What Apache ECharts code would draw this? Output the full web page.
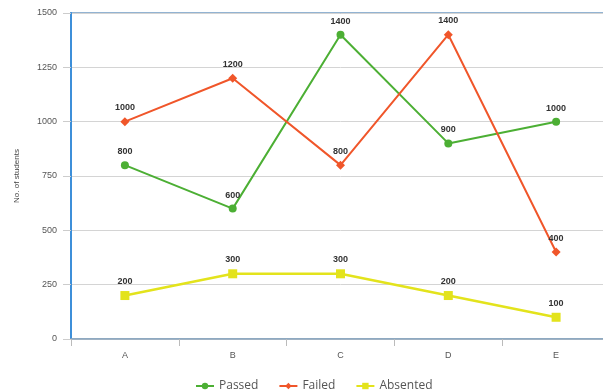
<!DOCTYPE html>
<html><head><meta charset="utf-8">
<script src="https://cdn.jsdelivr.net/npm/echarts@6/dist/echarts.min.js"></script>
<style>html,body{margin:0;padding:0;background:#fff;overflow:hidden}#c{width:612px;height:392px}</style>
</head><body><div id="c"></div>
<script>
var categories = ['A','B','C','D','E'];
var passed = [800, 600, 1400, 900, 1000];
var failed = [1000, 1200, 800, 1400, 400];
var absented = [200, 300, 300, 200, 100];
var yTicks = [0, 250, 500, 750, 1000, 1250, 1500];

var chart = echarts.init(document.getElementById('c'), null, {renderer:'canvas'});
var lbl = {show:true, position:'top', distance:5, fontSize:9, fontWeight:'bold', color:'#333', fontFamily:'Liberation Sans'};
chart.setOption({
  animation:false,
  grid:{left:71, top:13, width:539, bottom:53, show:true, borderColor:'#6f9ac4', borderWidth:1.5, backgroundColor:'transparent'},
  legend:{top:375, left:190, itemWidth:18, itemHeight:8, itemGap:20,
    textStyle:{fontSize:12, color:'#555', fontFamily:'Open Sans'},
    data:['Passed','Failed','Absented']},
  xAxis:{type:'category', data:categories, boundaryGap:true,
    axisLine:{lineStyle:{color:'#8fa6bd', width:1.5}},
    axisTick:{show:true, length:7, lineStyle:{color:'#bbb'}},
    axisLabel:{fontSize:9, color:'#555', margin:12, fontFamily:'Liberation Sans'},
    splitLine:{show:false}},
  yAxis:{type:'value', min:yTicks[0], max:yTicks[yTicks.length-1], interval:250,
    name:'No. of students', nameLocation:'middle', nameGap:50, nameRotate:90,
    nameTextStyle:{fontSize:8, color:'#444', fontFamily:'Liberation Sans'},
    axisLine:{show:true, lineStyle:{color:'#3d8fd9', width:2}},
    axisTick:{show:true, length:8, lineStyle:{color:'#ccc'}},
    axisLabel:{fontSize:9, color:'#555', margin:14, fontFamily:'Liberation Sans', formatter:function(v){return String(v);}},
    splitLine:{lineStyle:{color:'#d4d4d4'}}},
  series:[
    {name:'Passed', type:'line', data:passed, symbol:'circle', symbolSize:8,
      itemStyle:{color:'#4caf34'}, lineStyle:{width:2, color:'#4caf34'}, label:lbl},
    {name:'Failed', type:'line', data:failed, symbol:'diamond', symbolSize:9,
      itemStyle:{color:'#f0562a'}, lineStyle:{width:2, color:'#f0562a'}, label:lbl},
    {name:'Absented', type:'line', data:absented, symbol:'rect', symbolSize:9,
      itemStyle:{color:'#e3e31c'}, lineStyle:{width:2.5, color:'#e3e31c'}, label:lbl}
  ]
});
</script></body></html>
